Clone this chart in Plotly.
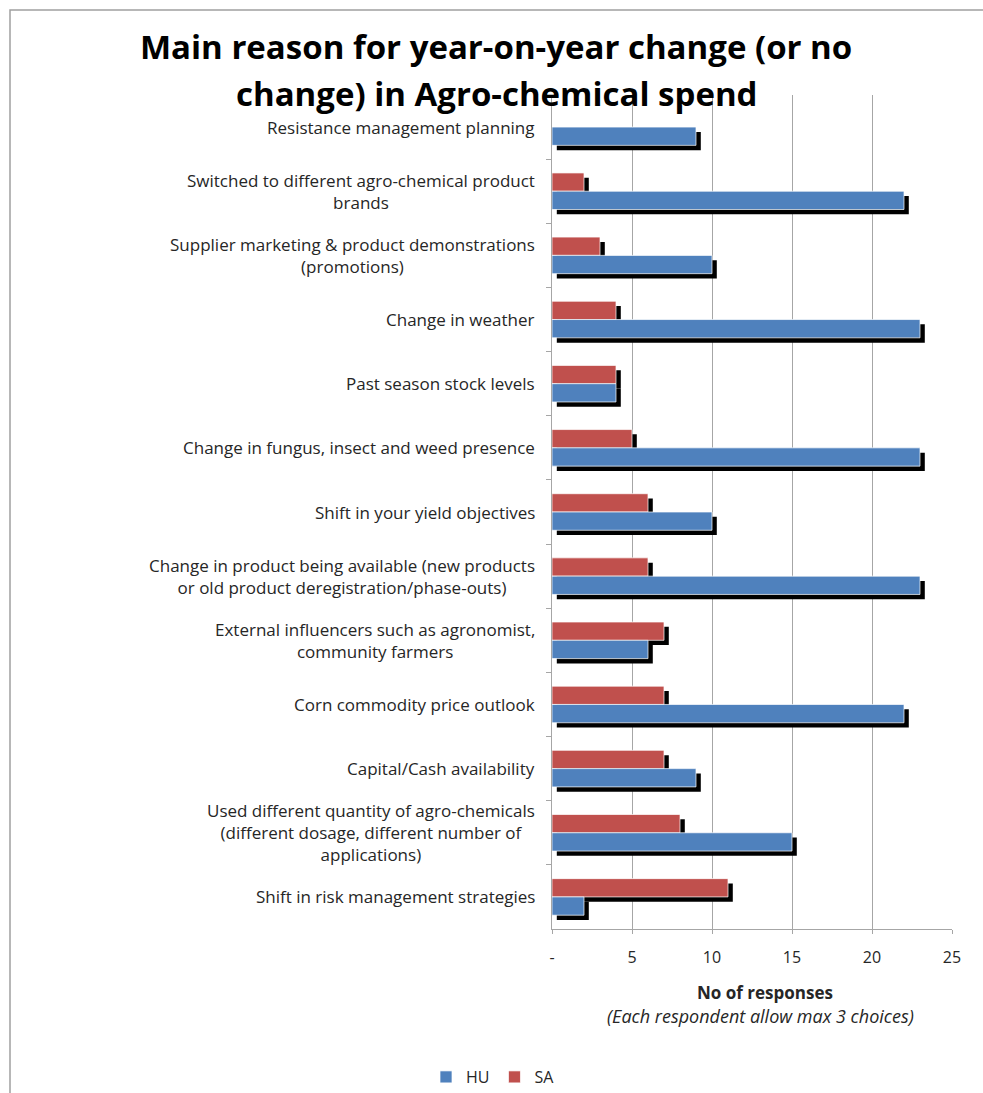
import plotly.graph_objects as go

categories = [
    "Resistance management planning",
    "Switched to different agro-chemical product<br>brands",
    "Supplier marketing & product demonstrations<br>(promotions)",
    "Change in weather",
    "Past season stock levels",
    "Change in fungus, insect and weed presence",
    "Shift in your yield objectives",
    "Change in product being available (new products<br>or old product deregistration/phase-outs)",
    "External influencers such as agronomist,<br>community farmers",
    "Corn commodity price outlook",
    "Capital/Cash availability",
    "Used different quantity of agro-chemicals<br>(different dosage, different number of<br>applications)",
    "Shift in risk management strategies",
]
hu_values = [9, 22, 10, 23, 4, 23, 10, 23, 6, 22, 9, 15, 2]
sa_values = [0, 2, 3, 4, 4, 5, 6, 6, 7, 7, 7, 8, 11]
tick_vals = [0, 5, 10, 15, 20, 25]
tick_text = ["-", "5", "10", "15", "20", "25"]

BLUE = "#4F81BD"
RED = "#C0504D"
GRID = "#a6a6a6"
TXT = "#262626"
FONT = "Open Sans"

BW = 0.285
SHX = 0.3
SHY = 0.075

fig = go.Figure()
# shadows
fig.add_trace(go.Bar(y=categories, x=sa_values, base=SHX, orientation="h",
                     offset=-BW + SHY, width=BW, marker=dict(color="black", line=dict(width=0)),
                     showlegend=False, hoverinfo="skip"))
fig.add_trace(go.Bar(y=categories, x=hu_values, base=SHX, orientation="h",
                     offset=SHY, width=BW, marker=dict(color="black", line=dict(width=0)),
                     showlegend=False, hoverinfo="skip"))
# bars
fig.add_trace(go.Bar(y=categories, x=sa_values, orientation="h", name="SA",
                     offset=-BW, width=BW, legendrank=2,
                     marker=dict(color=RED, line=dict(color="rgba(255,255,255,0.7)", width=1))))
fig.add_trace(go.Bar(y=categories, x=hu_values, orientation="h", name="HU",
                     offset=0, width=BW, legendrank=1,
                     marker=dict(color=BLUE, line=dict(color="rgba(255,255,255,0.7)", width=1))))

annotations = []
for c in categories:
    annotations.append(dict(text=c, x=0, xref="paper", y=c, yref="y", xanchor="right",
                            yanchor="middle", align="center", xshift=-15, showarrow=False,
                            font=dict(family=FONT, size=17, color=TXT)))

title_lines = ["Main reason for year-on-year change (or no", "change) in Agro-chemical spend"]
title_y = [(929 - 47) / 834, (929 - 93) / 834]
for t, yy in zip(title_lines, title_y):
    annotations.append(dict(text="<b>" + t + "</b>", x=(496 - 552) / 400, xref="paper", y=yy,
                            yref="paper", xanchor="center", yanchor="middle", showarrow=False,
                            font=dict(family=FONT, size=33, color="black")))

annotations.append(dict(text="<b>No of responses</b>", x=(765 - 552) / 400, xref="paper",
                        y=(929 - 992) / 834, yref="paper", xanchor="center", yanchor="middle",
                        showarrow=False, font=dict(family=FONT, size=17, color=TXT)))
annotations.append(dict(text="<i>(Each respondent allow max 3 choices)</i>", x=(760 - 552) / 400,
                        xref="paper", y=(929 - 1016) / 834, yref="paper", xanchor="center",
                        yanchor="middle", showarrow=False, font=dict(family=FONT, size=18, color=TXT)))

fig.update_layout(
    width=983, height=1093,
    margin=dict(l=552, r=31, t=95, b=164, autoexpand=False),
    paper_bgcolor="white", plot_bgcolor="white",
    barmode="overlay",
    showlegend=True,
    legend=dict(orientation="h", xref="container", x=493 / 983, xanchor="center",
                yref="container", y=(1093 - 1077) / 1093, yanchor="middle",
                font=dict(family=FONT, size=16, color=TXT), itemwidth=30,
                tracegroupgap=0, entrywidth=0),
    annotations=annotations,
    shapes=[dict(type="rect", xref="paper", yref="paper",
                 x0=(10 - 552) / 400, x1=(1000 - 552) / 400,
                 y0=(929 - 1110) / 834, y1=(929 - 10) / 834,
                 line=dict(color="#a0a0a0", width=1.5), layer="below")],
    xaxis=dict(range=[0, 25], tickvals=tick_vals, ticktext=tick_text,
               showgrid=True, gridcolor=GRID, gridwidth=1, zeroline=False,
               showline=True, linecolor=GRID, linewidth=1,
               ticks="outside", ticklen=4, tickcolor=GRID, automargin=False,
               tickfont=dict(family=FONT, size=16, color=TXT), ticklabelstandoff=10),
    yaxis=dict(autorange="reversed", type="category", showticklabels=False,
               tickson="boundaries", ticks="outside", ticklen=5, tickcolor=GRID,
               showgrid=False, showline=True, linecolor=GRID, linewidth=1, automargin=False),
    font=dict(family=FONT),
)

fig.write_html("out.html")
